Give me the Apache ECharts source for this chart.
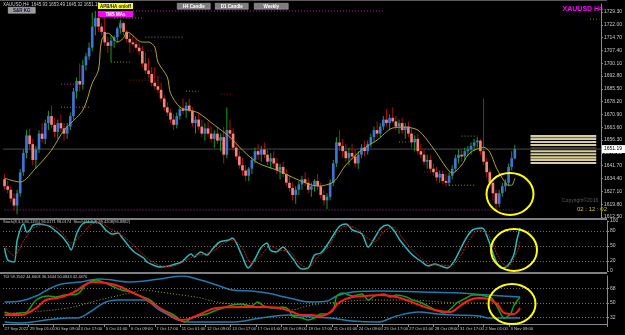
<!DOCTYPE html>
<html>
<head>
<meta charset="utf-8">
<script src="https://cdn.jsdelivr.net/npm/echarts@6/dist/echarts.min.js"></script>
<style>
  html, body { margin: 0; padding: 0; background: #000; }
  #chart { width: 625px; height: 335px; }
</style>
</head>
<body>
<div id="chart"></div>
<script>
// XAUUSD H4 bars: [open, high, low, close], bar 0 = 27 Sep 17:00
const candles = [
  [1634,1637,1628,1630],[1630,1633,1626,1628],[1628,1630,1621,1623],[1623,1626,1616,1619],
  [1619,1628,1614,1626],[1626,1640,1624,1638],[1638,1651,1636,1649],[1649,1662,1646,1659],
  [1659,1663,1651,1654],[1654,1657,1642,1645],[1645,1653,1640,1651],[1651,1662,1649,1660],
  [1660,1666,1655,1657],[1657,1668,1654,1666],[1666,1673,1662,1670],[1670,1676,1663,1665],
  [1665,1669,1658,1661],[1661,1668,1657,1666],[1666,1671,1661,1663],[1663,1666,1656,1660],
  [1660,1666,1657,1664],[1664,1672,1662,1670],[1670,1686,1668,1684],[1684,1692,1680,1690],
  [1690,1700,1684,1688],[1688,1702,1685,1699],[1699,1706,1696,1704],[1704,1712,1702,1709],
  [1709,1729,1707,1721],[1721,1730,1716,1726],[1726,1727,1718,1721],[1721,1723,1716,1718],
  [1718,1726,1710,1712],[1712,1715,1706,1710],[1710,1716,1701,1713],[1713,1716,1709,1715],
  [1715,1721,1712,1720],[1720,1725,1717,1723],[1723,1724,1716,1718],[1718,1719,1712,1714],
  [1714,1717,1706,1712],[1712,1716,1710,1711],[1711,1714,1708,1709],[1709,1712,1705,1707],
  [1707,1710,1698,1700],[1700,1706,1694,1696],[1696,1703,1692,1694],[1694,1698,1687,1689],
  [1689,1698,1685,1687],[1687,1693,1683,1685],[1685,1689,1678,1680],[1680,1682,1673,1675],
  [1675,1678,1670,1672],[1672,1674,1666,1668],[1668,1671,1662,1665],[1665,1672,1663,1670],
  [1670,1676,1668,1674],[1674,1680,1671,1673],[1673,1678,1669,1676],[1676,1680,1672,1673],
  [1673,1675,1664,1666],[1666,1670,1660,1668],[1668,1672,1662,1664],[1664,1668,1658,1660],
  [1660,1666,1656,1663],[1663,1667,1658,1660],[1660,1664,1655,1657],[1657,1662,1652,1660],
  [1660,1664,1654,1656],[1656,1660,1650,1658],[1658,1664,1643,1648],[1648,1675,1646,1662],
  [1662,1668,1656,1660],[1660,1663,1650,1652],[1652,1655,1645,1647],[1647,1650,1640,1642],
  [1642,1646,1636,1639],[1639,1642,1633,1636],[1636,1641,1633,1640],[1640,1647,1637,1645],
  [1645,1652,1643,1650],[1650,1654,1645,1648],[1648,1653,1644,1651],[1651,1655,1646,1648],
  [1648,1651,1642,1644],[1644,1649,1640,1646],[1646,1650,1641,1643],[1643,1646,1637,1639],
  [1639,1643,1634,1641],[1641,1644,1635,1637],[1637,1640,1630,1632],[1632,1636,1627,1629],
  [1629,1632,1622,1625],[1625,1630,1620,1628],[1628,1633,1625,1631],[1631,1636,1628,1634],
  [1634,1638,1630,1632],[1632,1635,1626,1628],[1628,1632,1624,1630],[1630,1634,1627,1633],
  [1633,1637,1628,1630],[1630,1632,1623,1625],[1625,1628,1619,1622],[1622,1626,1617,1624],
  [1624,1634,1622,1632],[1632,1645,1630,1643],[1643,1658,1641,1655],[1655,1662,1650,1653],
  [1653,1657,1646,1650],[1650,1654,1644,1646],[1646,1652,1642,1649],[1649,1654,1645,1647],
  [1647,1651,1641,1643],[1643,1650,1640,1648],[1648,1654,1646,1652],[1652,1656,1647,1650],
  [1650,1656,1648,1654],[1654,1660,1652,1658],[1658,1664,1655,1662],[1662,1667,1658,1660],
  [1660,1666,1658,1664],[1664,1670,1662,1668],[1668,1674,1664,1666],[1666,1671,1662,1669],
  [1669,1675,1666,1667],[1667,1670,1662,1664],[1664,1668,1660,1666],[1666,1669,1660,1662],
  [1662,1666,1657,1664],[1664,1667,1658,1660],[1660,1663,1652,1655],[1655,1659,1650,1657],
  [1657,1660,1648,1650],[1650,1654,1646,1648],[1648,1651,1642,1644],[1644,1648,1640,1645],
  [1645,1648,1638,1640],[1640,1643,1636,1638],[1638,1641,1633,1635],[1635,1639,1632,1637],
  [1637,1639,1631,1633],[1633,1637,1630,1632],[1632,1638,1630,1636],[1636,1642,1634,1640],
  [1640,1648,1638,1646],[1646,1651,1643,1648],[1648,1651,1644,1647],[1647,1652,1645,1650],
  [1650,1653,1647,1651],[1651,1655,1648,1653],[1653,1657,1650,1655],[1655,1658,1652,1656],
  [1656,1657,1648,1650],[1650,1680,1642,1644],[1644,1646,1635,1638],[1638,1640,1630,1632],
  [1632,1634,1622,1626],[1626,1628,1617,1620],[1620,1628,1618,1626],[1626,1632,1624,1630],
  [1630,1634,1627,1632],[1632,1643,1630,1641],[1641,1650,1639,1646],[1645.93,1653.49,1645.32,1651.19]
];

const slotCount = 191; // visible bar slots incl. right shift
const xLabels = ['27 Sep 2022','29 Sep 01:00','30 Sep 09:00','3 Oct 17:00','5 Oct 01:00','6 Oct 09:00',
  '7 Oct 17:00','11 Oct 01:00','12 Oct 09:00','13 Oct 17:00','17 Oct 01:00','18 Oct 09:00','19 Oct 17:00',
  '21 Oct 01:00','24 Oct 09:00','25 Oct 17:00','27 Oct 01:00','28 Oct 09:00','31 Oct 17:00','2 Nov 01:00','3 Nov 09:00'];
const priceTicks = [1729.30,1722.00,1714.70,1707.40,1700.10,1692.80,1685.50,1678.20,1670.90,
  1663.60,1656.30,1649.00,1641.70,1634.40,1627.10,1619.80,1612.50];
const stochTicks = [100, 80, 50, 20, 0];
const tdiTicks = [68, 50, 32];

// moving average (olive), [bar, price]
const maLine = [[0,1634.6],[5,1632.4],[10,1640.4],[15,1650.6],[19,1662.0],[25,1673.4],[28,1688.8],
  [30,1696.2],[31,1713.3],[33,1717.3],[34,1716.2],[36,1712.2],[38,1714.5],[39,1717.9],[40,1717.3],
  [44,1712.2],[46,1712.2],[48,1709.3],[49,1700.8],[52,1692.2],[53,1683.1],[56,1675.1],[59,1673.4],
  [62,1671.7],[67,1664.9],[72,1658.0],[76,1650.6],[81,1643.2],[87,1639.2],[94,1633.5],[100,1630.1],
  [105,1632.4],[109,1642.1],[114,1650.6],[119,1656.3],[124,1663.2],[128,1663.7],[132,1662.0],
  [135,1656.3],[138,1648.9],[141,1640.9],[143,1637.5],[146,1642.1],[148,1647.8],[150,1650.6],
  [152,1651.8],[153,1652.3],[155,1649.5],[157,1640.9],[159,1634.6],[161,1630.6],[162,1630.6],[163,1634.6]];

// stochastic
const stochMain = [[0,46],[1,22],[3,18],[4,62],[6,94],[7,78],[8,82],[9,92],[11,94],[14,90],[15,86],
  [18,70],[20,54],[21,42],[23,78],[25,96],[27,98],[30,96],[32,82],[34,74],[36,76],[37,68],[39,52],
  [41,38],[44,26],[45,18],[47,12],[49,8],[52,10],[54,14],[56,18],[59,34],[60,28],[62,38],[64,32],
  [66,46],[68,58],[71,62],[72,66],[75,32],[77,6],[79,22],[81,46],[83,56],[84,42],[86,38],[88,48],
  [90,34],[91,26],[94,4],[96,6],[98,32],[100,36],[102,52],[104,72],[106,90],[108,94],[110,82],
  [113,74],[115,48],[117,66],[119,86],[121,92],[123,82],[125,62],[127,46],[129,32],[132,18],
  [134,10],[136,14],[138,10],[140,6],[142,18],[144,42],[146,66],[148,82],[151,86],[153,62],
  [155,26],[157,6],[159,10],[161,32],[162,62],[163,86]];
const stochSignal = [[0,50],[3,30],[6,60],[9,85],[12,92],[15,90],[18,78],[21,56],[24,70],[27,92],
  [30,97],[33,86],[36,76],[39,62],[42,44],[45,26],[48,14],[51,9],[54,11],[57,20],[60,30],[63,34],
  [66,40],[69,54],[72,62],[75,48],[78,16],[81,30],[84,50],[87,42],[90,40],[93,16],[96,6],[99,28],
  [102,44],[105,76],[108,90],[111,86],[114,70],[117,58],[120,80],[123,88],[126,64],[129,42],
  [132,24],[135,12],[138,12],[141,10],[144,28],[147,62],[150,82],[153,72],[156,30],[159,8],
  [162,38],[163,60]];

// TDI
const tdiRsi = [[0,38.75],[2,36.25],[5,37.5],[7,38.75],[10,53.75],[14,58.75],[16,57.5],[19,60],
  [23,61.25],[26,73.75],[29,78.75],[31,76.25],[34,71.25],[37,66.25],[40,63.75],[43,58.75],
  [46,53.75],[49,43.75],[53,36.25],[57,26.25],[59,31.25],[61,33.75],[64,36.25],[67,41.25],
  [70,45],[72,47.5],[75,48.75],[78,46.25],[80,51.25],[82,46.25],[85,43.75],[88,45],[90,41.25],
  [91,33.75],[94,31.25],[96,28.75],[98,31.25],[100,36.25],[102,36.25],[104,41.25],[105,58.75],
  [107,62.5],[110,58.75],[113,61.25],[115,53.75],[117,58.75],[120,61.25],[122,57.5],[124,60],
  [127,57.5],[129,53.75],[132,50],[135,43.75],[137,40],[139,37.5],[141,42.5],[143,50],[146,56.25],
  [148,60],[150,60],[152,58.75],[154,56.25],[156,43.75],[158,31.25],[160,36.25],[161,46.25],[163,57.5]];
const tdiSignal = [[0,35],[5,35],[10,43.75],[13,53.75],[18,57.5],[22,63.75],[28,76.25],[32,75],
  [36,71.25],[40,63.75],[44,56.25],[48,46.25],[52,36.25],[56,28.75],[59,31.25],[62,36.25],
  [67,43.75],[75,45],[81,45],[87,43.75],[91,38.75],[94,35],[97,35],[100,33.75],[103,38.75],
  [106,51.25],[110,57.5],[114,58.75],[119,60],[124,57.5],[127,53.75],[132,46.25],[136,41.25],
  [141,38.75],[144,46.25],[147,53.75],[150,56.25],[153,55],[156,47.5],[158,37.5],[161,36.25],[163,43.75]];
const tdiBase = [[0,37.5],[8,38.75],[20,43.75],[30,53.75],[41,63.75],[44,66.25],[49,63.75],[56,60],
  [62,56.25],[67,51.25],[75,47.5],[84,43.75],[90,41.25],[97,47.5],[106,51.25],[116,53.75],
  [128,53.75],[138,51.25],[147,50],[157,50],[163,51.25]];
const tdiUpper = [[0,51.25],[5,52.5],[10,58.75],[14,67.5],[18,73.75],[24,76.25],[30,80],[40,76.25],
  [49,80],[56,83.75],[62,78.75],[68,71.25],[72,66.25],[78,65],[83,62.5],[90,56.25],[97,51.25],
  [102,52.5],[105,58.75],[110,63.75],[119,65],[132,63.75],[144,62.5],[153,60],[163,57.5]];
const tdiLower = [[0,26.25],[5,25],[11,27.5],[20,31.25],[23,31.25],[27,38.75],[32,51.25],[36,53.75],
  [44,53.75],[49,41.25],[58,26.25],[72,26.25],[81,31.25],[90,35],[97,32.5],[103,31.25],[110,27.5],
  [118,26.25],[124,33.75],[131,38.75],[137,36.25],[143,35],[150,33.75],[153,31.25],[163,31.25]];

// support / resistance segments: [fromBar, toBar, price, kind]
const levels = [
  [35,44,1725.9,'olive'],[45,57,1715.0,'olive'],[34,40,1700.8,'olive'],[41,48,1707.1,'red'],
  [40,47,1690.5,'red'],[18,27,1675.1,'olive'],[18,25,1688.2,'magenta'],[58,62,1684.2,'olive'],
  [69,73,1682.5,'red'],[126,131,1660.5,'red'],[126,129,1655.2,'olive'],[134,141,1638.1,'red'],
  [142,150,1630.6,'olive'],[146,151,1658.6,'olive'],[41,121,1729.9,'magenta'],
  [0,163,1616.5,'magenta'],[187,190,1725.3,'olive']
];
// pivot tag block on the right: [fromBar, toBar, price]
const tagRows = [[168,189,1658.6],[168,189,1656.9],[168,189,1655.2],[168,189,1653.5],[168,189,1650.0],
  [168,189,1648.3],[168,189,1646.6],[168,189,1644.9],[168,189,1643.2]];
const tagRowsDark = [[168,189,1657.7],[168,189,1651.8],[168,189,1645.8]];
const lastPrice = 1651.19;

const chart = echarts.init(document.getElementById('chart'));
const FONT = 'Liberation Sans';
const cats = Array.from({ length: slotCount }, (_, i) => String(i));
const levelColor = { olive: '#8a8a10', red: '#a01010', magenta: '#c020c0' };

function candleItem(params, api) {
  const i = api.value(0);
  const o = api.value(1), h = api.value(2), l = api.value(3), c = api.value(4);
  const pO = api.coord([i, o]), pC = api.coord([i, c]);
  const pH = api.coord([i, h]), pL = api.coord([i, l]);
  const bw = Math.max(2, api.size([1, 0])[0] * 0.85);
  const up = c >= o;
  const top = Math.min(pO[1], pC[1]);
  const hgt = Math.max(1, Math.abs(pO[1] - pC[1]));
  return {
    type: 'group',
    children: [
      { type: 'line', shape: { x1: pO[0], y1: pH[1], x2: pO[0], y2: pL[1] },
        style: { stroke: up ? '#14a014' : '#b01010', lineWidth: 1 } },
      { type: 'rect', shape: { x: pO[0] - bw / 2, y: top, width: bw, height: hgt },
        style: { fill: up ? '#3f74d6' : '#f3857b' } }
    ]
  };
}

function segmentItem(color, dash, width) {
  return function (params, api) {
    const a = api.coord([api.value(0), api.value(2)]);
    const b = api.coord([api.value(1), api.value(2)]);
    return { type: 'line', shape: { x1: a[0], y1: a[1], x2: b[0], y2: b[1] },
      style: { stroke: color || levelColor[api.value(3)], lineWidth: width, lineDash: dash } };
  };
}

function lastPriceItem(params, api) {
  const p = api.coord([api.value(0), api.value(1)]);
  const cs = params.coordSys;
  return {
    type: 'group',
    children: [
      { type: 'line', shape: { x1: cs.x, y1: p[1], x2: cs.x + cs.width, y2: p[1] },
        style: { stroke: '#4a4a4a', lineWidth: 1 } },
      { type: 'rect', shape: { x: cs.x + cs.width + 1, y: p[1] - 4, width: 24, height: 8 },
        style: { fill: '#ffffff' } },
      { type: 'text', x: cs.x + cs.width + 3, y: p[1] - 3,
        style: { text: api.value(1).toFixed(2), fill: '#000', fontSize: 5, fontFamily: FONT } }
    ]
  };
}

const axisText = { color: '#c8c8c8', fontSize: 5, fontFamily: FONT };
const xBase = (gi, show) => ({
  type: 'category', gridIndex: gi, data: cats, boundaryGap: true,
  axisLine: { show: show, lineStyle: { color: '#8a8a8a' } },
  axisTick: { show: show, interval: (idx) => idx % 8 === 0 && idx <= 160, length: 3, lineStyle: { color: '#8a8a8a' } },
  axisLabel: { show: show, interval: 0, align: 'left', margin: 3, color: '#c8c8c8', fontSize: 4.2, fontFamily: FONT,
    formatter: (v) => { const k = +v; return k % 8 === 0 && xLabels[k / 8] ? xLabels[k / 8] : ''; } },
  splitLine: { show: false }
});

const option = {
  backgroundColor: '#000000',
  animation: false,
  grid: [
    { left: 3, right: 18, top: 4, bottom: 117 },
    { left: 3, right: 18, top: 221, bottom: 64 },
    { left: 3, right: 18, top: 276, bottom: 11 }
  ],
  xAxis: [xBase(0, false), xBase(1, false), xBase(2, true)],
  yAxis: [
    { type: 'value', gridIndex: 0, position: 'right', min: 1611.9, max: 1733.9,
      axisLine: { show: true, lineStyle: { color: '#8a8a8a' } },
      axisTick: { show: true, length: 2, customValues: priceTicks, lineStyle: { color: '#8a8a8a' } },
      axisLabel: { ...axisText, margin: 3, customValues: priceTicks, formatter: (v) => v.toFixed(2) },
      splitLine: { show: false } },
    { type: 'value', gridIndex: 1, position: 'right', min: 0, max: 100,
      axisLine: { show: true, lineStyle: { color: '#8a8a8a' } },
      axisTick: { show: true, length: 2, customValues: stochTicks, lineStyle: { color: '#8a8a8a' } },
      axisLabel: { ...axisText, margin: 3, customValues: stochTicks },
      splitLine: { show: false } },
    { type: 'value', gridIndex: 2, position: 'right', min: 23.75, max: 83.75,
      axisLine: { show: true, lineStyle: { color: '#8a8a8a' } },
      axisTick: { show: true, length: 2, customValues: tdiTicks, lineStyle: { color: '#8a8a8a' } },
      axisLabel: { ...axisText, margin: 3, customValues: tdiTicks },
      splitLine: { show: false } }
  ],
  series: [
    { type: 'custom', name: 'levels', xAxisIndex: 0, yAxisIndex: 0,
      renderItem: segmentItem(null, [1, 2], 1), data: levels, silent: true, z: 1 },
    { type: 'custom', name: 'tags', xAxisIndex: 0, yAxisIndex: 0,
      renderItem: segmentItem('#d6cc9e', null, 2), data: tagRows, silent: true, z: 1 },
    { type: 'custom', name: 'tagsDark', xAxisIndex: 0, yAxisIndex: 0,
      renderItem: segmentItem('#8c8150', null, 1), data: tagRowsDark, silent: true, z: 1 },
    { type: 'custom', name: 'bid', xAxisIndex: 0, yAxisIndex: 0,
      renderItem: lastPriceItem, data: [[candles.length - 1, lastPrice]], silent: true, z: 2 },
    { type: 'custom', name: 'XAUUSD', xAxisIndex: 0, yAxisIndex: 0,
      renderItem: candleItem, data: candles.map((d, i) => [i, d[0], d[1], d[2], d[3]]),
      encode: { x: 0, y: [1, 2, 3, 4] }, z: 3 },
    { type: 'line', name: 'MA', xAxisIndex: 0, yAxisIndex: 0, data: maLine, showSymbol: false,
      smooth: 0.3, lineStyle: { color: '#b3a21e', width: 1 }, z: 4 },

    { type: 'line', name: 'Stoch', xAxisIndex: 1, yAxisIndex: 1, data: stochMain, showSymbol: false,
      smooth: 0.3, lineStyle: { color: '#2ab8b8', width: 1.5 },
      markLine: { silent: true, symbol: 'none', label: { show: false },
        lineStyle: { color: '#707070', type: [1, 2], width: 1 },
        data: [{ yAxis: 80 }, { yAxis: 50 }, { yAxis: 20 }] } },
    { type: 'line', name: 'Signal', xAxisIndex: 1, yAxisIndex: 1, data: stochSignal, showSymbol: false,
      smooth: 0.3, lineStyle: { color: '#c01818', width: 1, type: [2, 1] } },

    { type: 'line', name: 'Upper', xAxisIndex: 2, yAxisIndex: 2, data: tdiUpper, showSymbol: false,
      smooth: 0.4, lineStyle: { color: '#1c7cae', width: 1.5 },
      markLine: { silent: true, symbol: 'none', label: { show: false },
        lineStyle: { color: '#707070', type: [1, 2], width: 1 },
        data: [{ yAxis: 68 }, { yAxis: 50 }, { yAxis: 32 }] } },
    { type: 'line', name: 'Lower', xAxisIndex: 2, yAxisIndex: 2, data: tdiLower, showSymbol: false,
      smooth: 0.4, lineStyle: { color: '#1c7cae', width: 1.5 } },
    { type: 'line', name: 'Base', xAxisIndex: 2, yAxisIndex: 2, data: tdiBase, showSymbol: false,
      smooth: 0.4, lineStyle: { color: '#a8a020', width: 1, type: [1, 2] } },
    { type: 'line', name: 'RSI', xAxisIndex: 2, yAxisIndex: 2, data: tdiRsi, showSymbol: false,
      smooth: 0.3, lineStyle: { color: '#14a014', width: 1.5 } },
    { type: 'line', name: 'TDI signal', xAxisIndex: 2, yAxisIndex: 2, data: tdiSignal, showSymbol: false,
      smooth: 0.4, lineStyle: { color: '#ff1a1a', width: 2 } }
  ],
  graphic: [
    // frame and panel separators
    { type: 'rect', shape: { x: 0, y: 0, width: 607, height: 1 }, style: { fill: '#5a5a5a' }, silent: true },
    { type: 'rect', shape: { x: 0, y: 218, width: 607, height: 2 }, style: { fill: '#808080' }, silent: true },
    { type: 'rect', shape: { x: 0, y: 272, width: 607, height: 2 }, style: { fill: '#808080' }, silent: true },
    // header
    { type: 'text', left: 3, top: 2, style: { text: 'XAUUSD,H4  1645.93 1653.49 1645.32 1651.19', fill: '#d0d0d0', fontSize: 4.5, fontFamily: FONT } },
    { type: 'text', right: 22, top: 6, style: { text: 'XAUUSD H4', fill: '#ff00ff', fontSize: 7, fontWeight: 'bold', fontFamily: FONT } },
    // buttons
    { type: 'group', left: 8, top: 7, children: [
      { type: 'rect', shape: { x: 0, y: 0, width: 27, height: 6 }, style: { fill: '#9a9a9a', stroke: '#c8c8c8', lineWidth: 0.5 } },
      { type: 'text', x: 13.5, y: 0.8, style: { text: 'S&R KG', fill: '#12124a', fontSize: 4.5, fontWeight: 'bold', align: 'center', fontFamily: FONT } } ] },
    { type: 'group', left: 98, top: 3, children: [
      { type: 'rect', shape: { x: 0, y: 0, width: 35, height: 6 }, style: { fill: '#ffff00' } },
      { type: 'text', x: 17.5, y: 0.8, style: { text: 'APB/HA on/off', fill: '#101060', fontSize: 4.5, fontWeight: 'bold', align: 'center', fontFamily: FONT } } ] },
    { type: 'group', left: 98, top: 11, children: [
      { type: 'rect', shape: { x: 0, y: 0, width: 35, height: 6 }, style: { fill: '#ff00ff' } },
      { type: 'text', x: 17.5, y: 0.8, style: { text: 'TMS MAs', fill: '#ffffff', fontSize: 4.5, fontWeight: 'bold', align: 'center', fontFamily: FONT } } ] },
    { type: 'group', left: 177, top: 3, children: [
      { type: 'rect', shape: { x: 0, y: 0, width: 33, height: 6 }, style: { fill: '#7e7e7e', stroke: '#b0b0b0', lineWidth: 0.5 } },
      { type: 'text', x: 16.5, y: 0.8, style: { text: 'H4 Candle', fill: '#ffffff', fontSize: 4.5, fontWeight: 'bold', align: 'center', fontFamily: FONT } } ] },
    { type: 'group', left: 215, top: 3, children: [
      { type: 'rect', shape: { x: 0, y: 0, width: 33, height: 6 }, style: { fill: '#7e7e7e', stroke: '#b0b0b0', lineWidth: 0.5 } },
      { type: 'text', x: 16.5, y: 0.8, style: { text: 'D1 Candle', fill: '#ffffff', fontSize: 4.5, fontWeight: 'bold', align: 'center', fontFamily: FONT } } ] },
    { type: 'group', left: 254, top: 3, children: [
      { type: 'rect', shape: { x: 0, y: 0, width: 34, height: 6 }, style: { fill: '#7e7e7e', stroke: '#b0b0b0', lineWidth: 0.5 } },
      { type: 'text', x: 17, y: 0.8, style: { text: 'Weekly', fill: '#ffffff', fontSize: 4.5, fontWeight: 'bold', align: 'center', fontFamily: FONT } } ] },
    // indicator titles
    { type: 'text', left: 3, top: 220, style: { text: 'Stoch(8,3,3,80,1195) 96.0171 98.0174  Stoch(14,3,3) 99.4208(96.8882)', fill: '#c8c8c8', fontSize: 4, fontFamily: FONT } },
    { type: 'text', left: 3, top: 275, style: { text: 'TDI 59.1562 44.6603 36.1644 50.0843 42.4470', fill: '#c8c8c8', fontSize: 4, fontFamily: FONT } },
    // copyright & timer
    { type: 'text', left: 562, top: 198, style: { text: 'Copyright©2016', fill: '#5a5a5a', fontSize: 5, fontFamily: FONT } },
    { type: 'text', left: 577, top: 206, style: { text: '02 : 12 : 02', fill: '#d0c000', fontSize: 6, fontFamily: FONT } },
    // yellow highlight ellipses
    { type: 'ellipse', shape: { cx: 510, cy: 194, rx: 23.5, ry: 21 }, style: { fill: 'none', stroke: '#ffff00', lineWidth: 2 }, z: 100 },
    { type: 'ellipse', shape: { cx: 514, cy: 250, rx: 23, ry: 21 }, style: { fill: 'none', stroke: '#ffff00', lineWidth: 2 }, z: 100 },
    { type: 'ellipse', shape: { cx: 512, cy: 304, rx: 23.5, ry: 20 }, style: { fill: 'none', stroke: '#ffff00', lineWidth: 2 }, z: 100 }
  ]
};

chart.setOption(option);
</script>
</body>
</html>
